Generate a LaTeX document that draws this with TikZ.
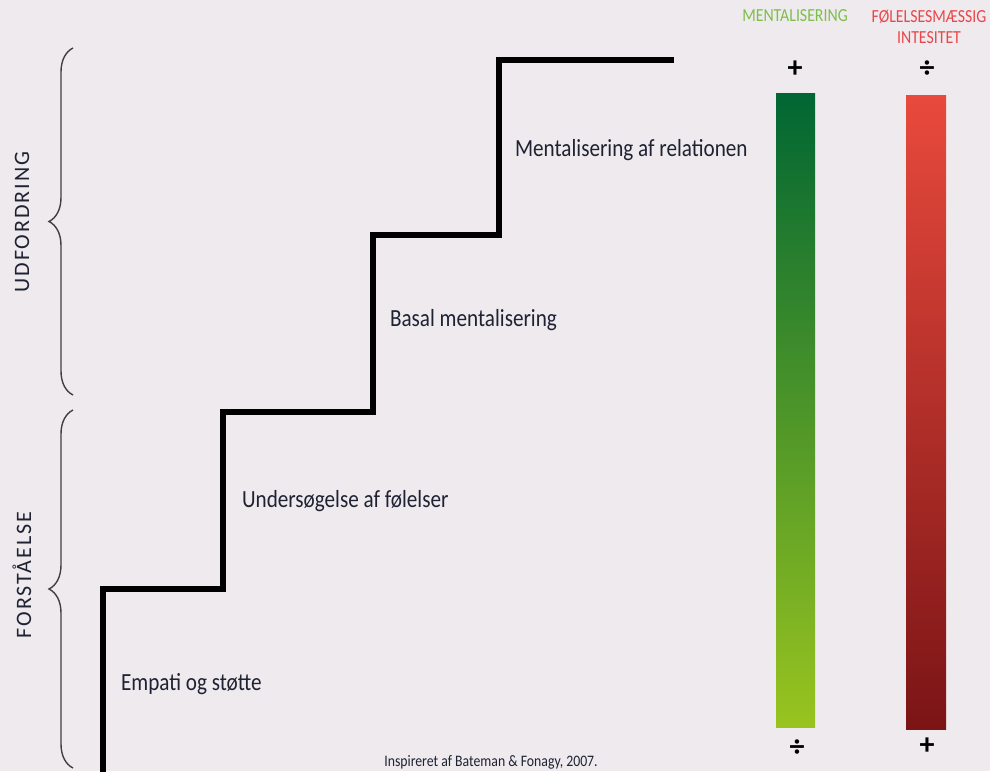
\documentclass[tikz,border=0pt]{standalone}
\usepackage{fontspec}
\setmainfont{Carlito}
\newfontfamily\narrowfont[FakeStretch=0.86]{Carlito}
\newfontfamily\spacedfont[LetterSpace=9]{Carlito}
\usetikzlibrary{decorations.pathreplacing}
\definecolor{bgcol}{HTML}{EFEAED}
\definecolor{txtcol}{HTML}{1E2233}
\definecolor{mentgreen}{HTML}{7CBF4A}
\definecolor{feelred}{HTML}{E8474A}
\tikzset{
  steplabel/.style={anchor=west, text=txtcol, font=\narrowfont\fontsize{12.3}{14}\selectfont},
  sidelabel/.style={rotate=90, text=txtcol, font=\spacedfont\fontsize{11}{12}\selectfont},
  headlabel/.style={font=\narrowfont\fontsize{9.2}{10.5}\selectfont, align=center},
  sign/.style={font=\bfseries\fontsize{15}{15}\selectfont},
  bracket/.style={decorate, decoration={brace, amplitude=12pt}, line width=0.7pt, draw=black!75}
}
\begin{document}
\begin{tikzpicture}[x=0.5pt, y=-0.5pt]
    \fill[bgcol] (0, 0) rectangle (990, 771);
    \useasboundingbox (0, 0) rectangle (990, 771);
    % staircase
    \draw[line width=3pt, line join=miter] (103, 775) -- (103, 589) -- (223, 589) -- (223, 412)
      -- (373, 412) -- (373, 235) -- (499, 235) -- (499, 60) -- (674, 60);
    \node[steplabel] (empati) at (114, 684) {Empati og støtte};
    \node[steplabel] (undersog) at (235, 501) {Undersøgelse af følelser};
    \node[steplabel] (basal) at (383, 320) {Basal mentalisering};
    \node[steplabel] (relation) at (508, 150) {Mentalisering af relationen};
    % braces
    \draw[bracket] (73, 395) -- (73, 48);
    \draw[bracket] (73, 768) -- (73, 410);
    \node[sidelabel] (udfordring) at (22, 222) {UDFORDRING};
    \node[sidelabel] (forstaaelse) at (22, 575) {FORSTÅELSE};
    % bars
    \shade[top color={rgb,255:red,0;green,102;blue,51}, bottom color={rgb,255:red,153;green,196;blue,31}]
      (776, 93) rectangle (815, 727);
    \shade[top color={rgb,255:red,232;green,74;blue,60}, bottom color={rgb,255:red,123;green,20;blue,22}]
      (906, 95) rectangle (946, 729);
    \node[headlabel, text=mentgreen] (menttitle) at (795, 16) {MENTALISERING};
    \node[headlabel, text=feelred] (feeltitle) at (929, 27) {FØLELSESMÆSSIG\\INTESITET};
    \node[sign] (mentplus) at (795, 69) {+};
    \node[sign] (feeldiv) at (927, 69) {÷};
    \node[sign] (mentdiv) at (797, 748) {÷};
    \node[sign] (feelplus) at (927, 746) {+};
    \node[text=txtcol, font=\narrowfont\fontsize{8}{9}\selectfont] (kilde) at (491, 762) {Inspireret af Bateman \& Fonagy, 2007.};
  \end{tikzpicture}
\end{document}
